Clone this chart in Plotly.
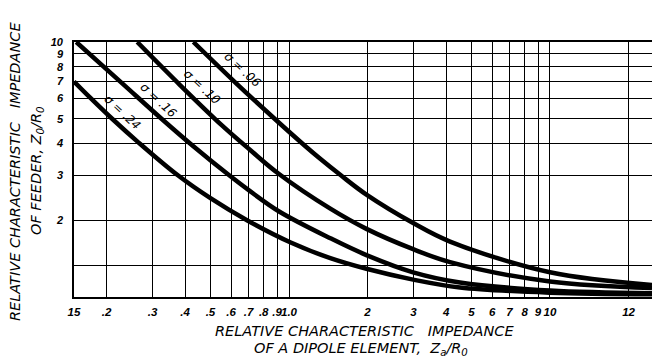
import numpy as np
import plotly.graph_objects as go

# ---- data ----
sigma_labels = ["σ = .06", "σ = .10", "σ = .16", "σ = .24"]

s06_x = [0.43, 0.626, 0.90, 1.15, 1.31, 1.58, 1.98, 2.99, 4.14, 10.0, 24.6]
s06_y = [10.0, 6.9, 4.9, 3.92, 3.5, 3.0, 2.52, 1.95, 1.65, 1.25, 1.115]

s10_x = [0.262, 0.384, 0.552, 0.708, 0.91, 1.44, 1.98, 2.99, 4.14, 10.0, 24.6]
s10_y = [10.0, 6.75, 4.72, 3.78, 3.05, 2.22, 1.85, 1.54, 1.37, 1.15, 1.085]

s16_x = [0.153, 0.229, 0.332, 0.43, 0.585, 0.709, 0.92, 1.44, 1.98, 2.99, 4.52, 10.0, 24.6]
s16_y = [10.0, 6.9, 4.9, 3.9, 3.02, 2.6, 2.16, 1.70, 1.46, 1.25, 1.14, 1.06, 1.035]

s24_x = [0.15, 0.173, 0.21, 0.264, 0.375, 0.50, 0.69, 1.01, 1.44, 1.98, 2.99, 4.52, 10.0, 24.6]
s24_y = [7.0, 6.05, 5.0, 4.05, 3.0, 2.44, 2.0, 1.64, 1.42, 1.29, 1.17, 1.09, 1.04, 1.025]

label_x = [0.665, 0.465, 0.315, 0.229]
label_y = [7.75, 6.68, 5.9, 5.3]

x_tick_vals = [0.15, 0.2, 0.3, 0.4, 0.5, 0.6, 0.7, 0.8, 0.9, 1.0,
               2, 3, 4, 5, 6, 7, 8, 9, 10, 20]
x_tick_text = ["15", ".2", ".3", ".4", ".5", ".6", ".7", ".8", ".9", "1.0",
               "2", "3", "4", "5", "6", "7", "8", "9", "10", "12"]
y_tick_vals = [2, 3, 4, 5, 6, 7, 8, 9, 10]
y_tick_text = ["2", "3", "4", "5", "6", "7", "8", "9", "10"]
y_extra_grid = [1.33]

FONT = "DejaVu Sans"
TICKFONT = "Liberation Sans"

fig = go.Figure()
for xs, ys in [(s06_x, s06_y), (s10_x, s10_y), (s16_x, s16_y), (s24_x, s24_y)]:
    fig.add_trace(go.Scatter(x=xs, y=ys, mode="lines",
                             line=dict(color="black", width=4.5, shape="spline", smoothing=1.0),
                             showlegend=False, hoverinfo="skip"))

for t, lx, ly in zip(sigma_labels, label_x, label_y):
    fig.add_annotation(x=np.log10(lx), y=np.log10(ly), xref="x", yref="y",
                       text=t, showarrow=False, textangle=43,
                       font=dict(family=FONT, size=12, color="black", style="italic"))

nb = "\u00a0"
annos = [
    ("RELATIVE CHARACTERISTIC" + nb * 3 + "IMPEDANCE", 0.503, -0.133, 0),
    ("OF A DIPOLE ELEMENT," + nb * 2 + "Z<sub>a</sub>/R<sub>0</sub>", 0.497, -0.204, 0),
    ("RELATIVE CHARACTERISTIC" + nb * 3 + "IMPEDANCE", -0.102, 0.49, -90),
    ("OF FEEDER," + nb + "Z<sub>0</sub>/R<sub>0</sub>", -0.064, 0.494, -90),
]
for t, ax, ay, ang in annos:
    fig.add_annotation(x=ax, y=ay, xref="paper", yref="paper", text=t, showarrow=False,
                       textangle=ang, xanchor="center", yanchor="middle",
                       font=dict(family=FONT, size=14.5, color="black", style="italic"))

tickfont = dict(family=TICKFONT, size=11.5, color="black", style="italic", weight="bold")
fig.update_xaxes(type="log", range=[np.log10(0.15), np.log10(24.6)],
                 tickmode="array", tickvals=x_tick_vals, ticktext=x_tick_text,
                 tickangle=0, automargin=False,
                 showgrid=True, gridcolor="black", gridwidth=1.4,
                 showline=True, linecolor="black", linewidth=1.6, mirror=True,
                 ticks="", zeroline=False, tickfont=tickfont, ticklabelstandoff=3)
fig.update_yaxes(type="log", range=[0, 1],
                 tickmode="array", tickvals=y_tick_vals, ticktext=y_tick_text,
                 tickangle=0, automargin=False,
                 showgrid=True, gridcolor="black", gridwidth=1.4,
                 minor=dict(tickmode="array", tickvals=y_extra_grid, showgrid=True,
                            gridcolor="black", gridwidth=1.4, ticks=""),
                 showline=True, linecolor="black", linewidth=1.6,
                 ticks="", zeroline=False, tickfont=dict(tickfont, size=11), ticklabelstandoff=7)

fig.update_layout(width=652, height=357, margin=dict(l=74, r=0, t=42, b=60),
                  paper_bgcolor="white", plot_bgcolor="white")

fig.write_html("out.html", config={"displayModeBar": False},
               post_script="document.body.style.margin='0';")
